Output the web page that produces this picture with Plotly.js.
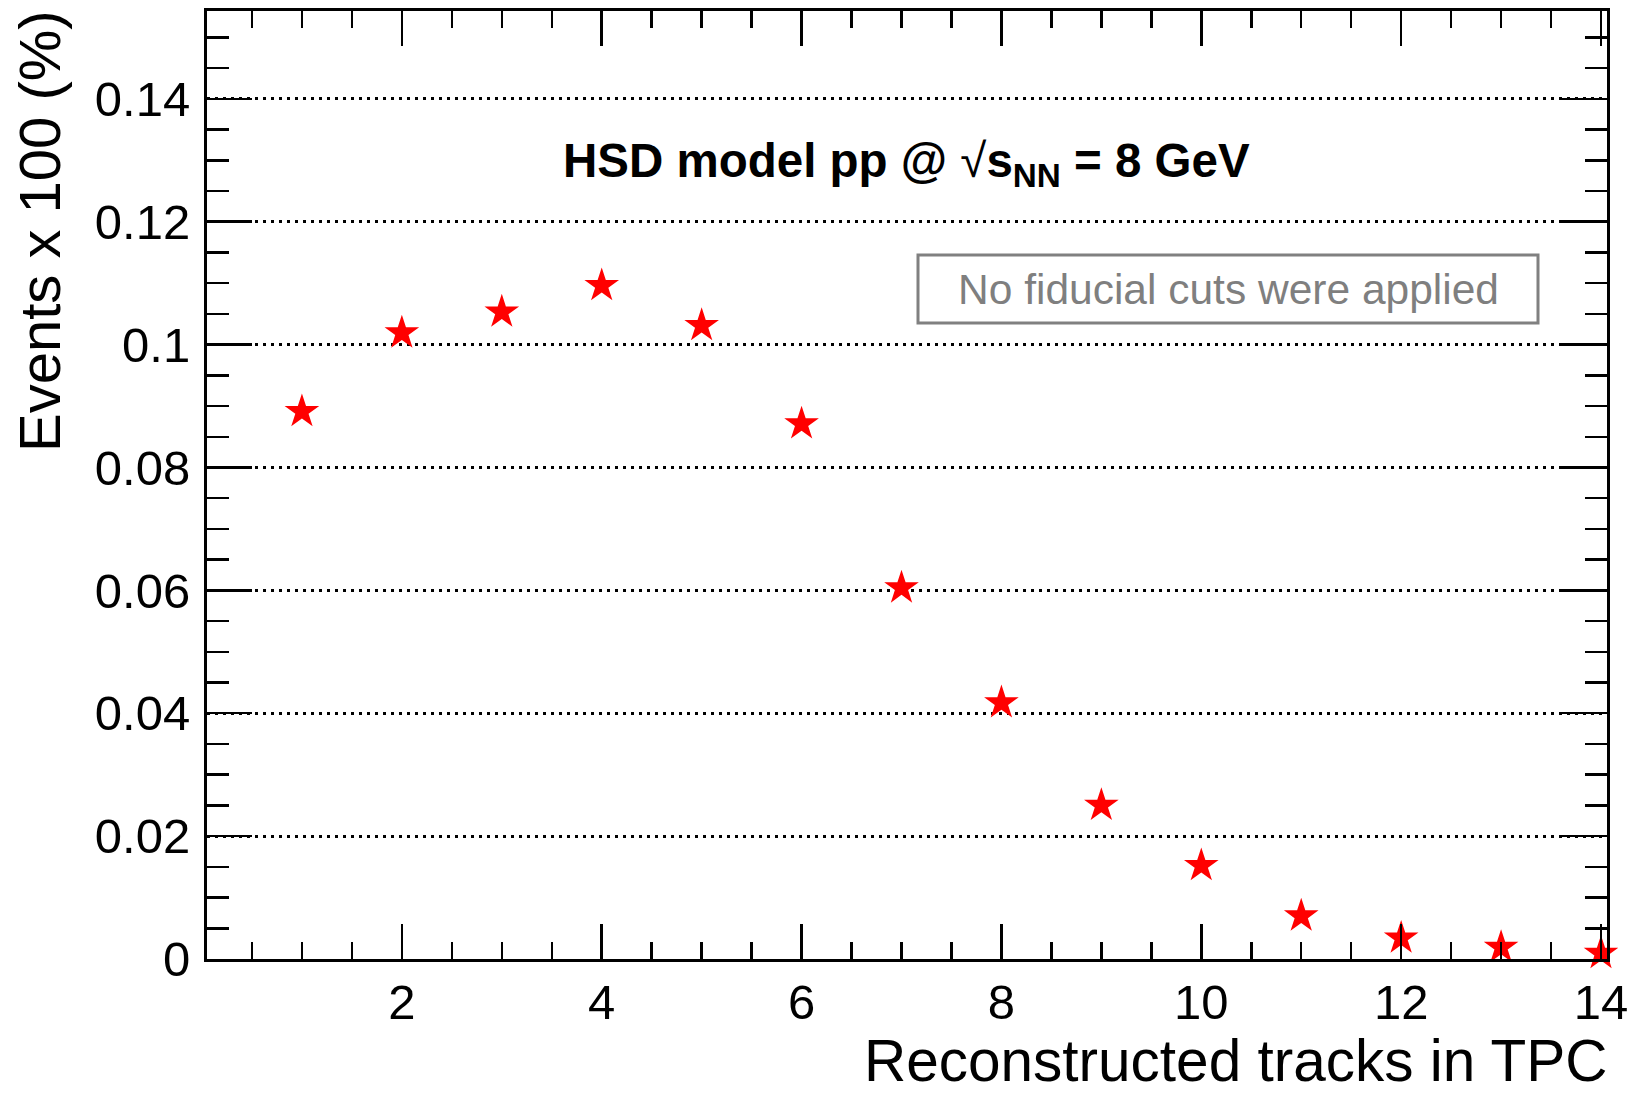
<!DOCTYPE html>
<html>
<head>
<meta charset="utf-8">
<script src="https://cdn.plot.ly/plotly-3.0.1.min.js"></script>
<style>
  html, body { margin: 0; padding: 0; background: #ffffff; }
  #chart { width: 1633px; height: 1093px; }
</style>
</head>
<body>
<div id="chart"></div>
<script>
// ---- data ----
const tracks = [1, 2, 3, 4, 5, 6, 7, 8, 9, 10, 11, 12, 13, 14];
const eventsPct = [0.0891, 0.1019, 0.1053, 0.1096, 0.1031, 0.0871, 0.0604,
                   0.0417, 0.0250, 0.0152, 0.0070, 0.0034, 0.0019, 0.0009];
const xTickVals = [2, 4, 6, 8, 10, 12, 14];
const xTickText = ['2', '4', '6', '8', '10', '12', '14'];
const yTickVals = [0, 0.02, 0.04, 0.06, 0.08, 0.1, 0.12, 0.14];
const yTickText = ['0', '0.02', '0.04', '0.06', '0.08', '0.1', '0.12', '0.14'];
const titleText = '<b>HSD model pp @ </b>√<b>s<sub>NN</sub> = 8 GeV</b>';
const xTitle = 'Reconstructed tracks in TPC';
const yTitle = 'Events x 100 (%)';
const noteText = 'No fiducial cuts were applied';

// ---- layout geometry (pixels) ----
const W = 1633, H = 1093;
const L = 207, R = 1607, T = 11, B = 959;
const px = v => (v - L) / (R - L);
const py = v => (B - v) / (B - T);
const FONT = 'Liberation Sans, Arial, Helvetica, sans-serif';

const trace = {
  x: tracks,
  y: eventsPct,
  type: 'scatter',
  mode: 'markers',
  marker: { symbol: 'star', size: 26, color: '#ff0000', line: { width: 0 } },
  hoverinfo: 'skip',
  cliponaxis: false,
  showlegend: false
};

const layout = {
  width: W, height: H,
  margin: { l: L, r: W - R, t: T, b: H - B, pad: 0 },
  paper_bgcolor: '#ffffff',
  plot_bgcolor: '#ffffff',
  font: { family: FONT, color: '#000000' },
  showlegend: false,
  xaxis: {
    range: [0.05, 14.06],
    showgrid: false,
    zeroline: false,
    showline: true, linecolor: '#000000', linewidth: 3,
    mirror: 'allticks',
    ticks: 'inside', ticklen: 35, tickwidth: 2.5, tickcolor: '#000000',
    tickmode: 'array', tickvals: xTickVals, ticktext: xTickText,
    tickfont: { size: 49, family: FONT, color: '#000000' },
    ticklabelstandoff: -2,
    minor: { dtick: 0.5, tick0: 0, ticks: 'inside', ticklen: 17, tickwidth: 2.5, tickcolor: '#000000', showgrid: false }
  },
  yaxis: {
    range: [0, 0.1543],
    showgrid: true, gridcolor: '#000000', gridwidth: 3, griddash: '3px,5px',
    zeroline: false,
    showline: true, linecolor: '#000000', linewidth: 3,
    mirror: 'allticks',
    ticks: 'inside', ticklen: 45, tickwidth: 2.5, tickcolor: '#000000',
    tickmode: 'array', tickvals: yTickVals, ticktext: yTickText,
    tickfont: { size: 49, family: FONT, color: '#000000' },
    ticklabelstandoff: 4,
    minor: { dtick: 0.005, tick0: 0, ticks: 'inside', ticklen: 22, tickwidth: 2.5, tickcolor: '#000000', showgrid: false }
  },
  shapes: [
    {
      type: 'rect', xref: 'paper', yref: 'paper',
      x0: px(918), x1: px(1538), y0: py(323), y1: py(255),
      line: { color: '#808080', width: 3 }, fillcolor: 'rgba(0,0,0,0)'
    }
  ],
  annotations: [
    {
      text: titleText, xref: 'paper', yref: 'paper',
      x: px(906), y: py(164), xanchor: 'center', yanchor: 'middle',
      showarrow: false, font: { size: 47.5, family: FONT, color: '#000000' }
    },
    {
      text: noteText, xref: 'paper', yref: 'paper',
      x: px(1228), y: py(289), xanchor: 'center', yanchor: 'middle',
      showarrow: false, font: { size: 42.5, family: FONT, color: '#7f7f7f' }
    },
    {
      text: xTitle, xref: 'paper', yref: 'paper',
      x: px(1609), y: py(1060), xanchor: 'right', yanchor: 'middle',
      showarrow: false, font: { size: 58.5, family: FONT, color: '#000000' }
    },
    {
      text: yTitle, xref: 'paper', yref: 'paper', textangle: -90,
      x: px(40), y: py(8), xanchor: 'center', yanchor: 'top',
      showarrow: false, font: { size: 58, family: FONT, color: '#000000' }
    }
  ],
  hovermode: false
};

Plotly.newPlot('chart', [trace], layout, { displayModeBar: false, staticPlot: true });
</script>
</body>
</html>
